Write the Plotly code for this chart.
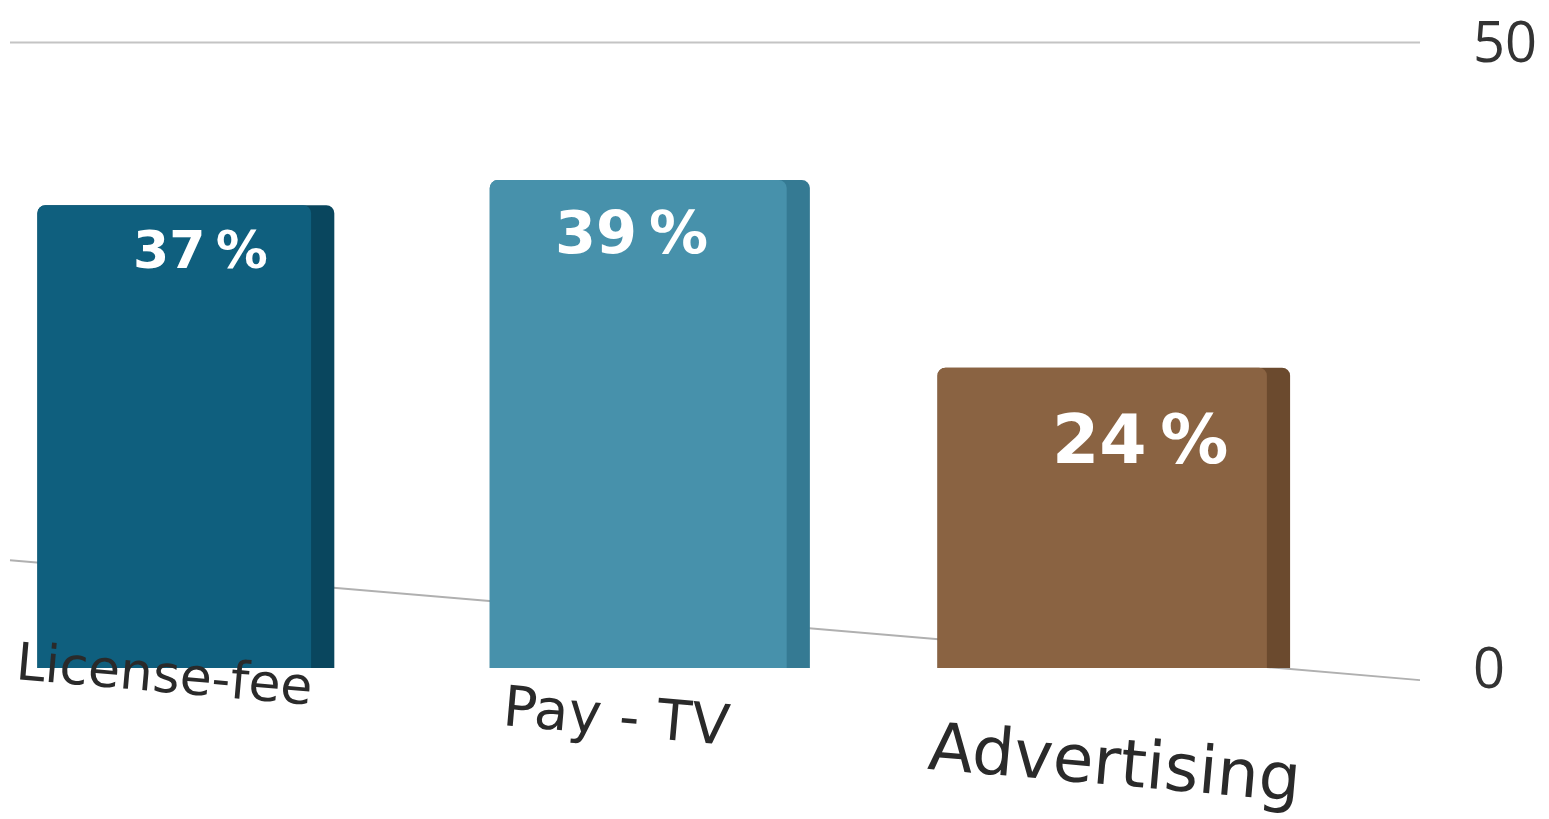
import plotly.graph_objects as go

categories = ["License-fee", "Pay-TV", "Advertising"]
category_text = ["License-fee", "Pay - TV", "Advertising"]
values = [37, 39, 24]
value_labels = ["37\u2009%", "39\u2009%", "24\u2009%"]
bar_colors = ["#0f5f7e", "#4791ab", "#8a6342"]
side_colors = ["#09465e", "#357a93", "#6b4a2e"]
y_ticks = [0, 50]

x_idx = list(range(len(categories)))

# perspective styling (bars nearer the viewer look wider)
side_w = [0.64, 0.69, 0.76]
front_w = [w - 0.05 for w in side_w]
offs = [-w / 2 for w in side_w]

fig = go.Figure()
fig.add_trace(go.Bar(
    x=x_idx, y=values,
    marker=dict(color=side_colors, line=dict(width=0), cornerradius=8),
    width=side_w, offset=offs,
    hoverinfo="skip", showlegend=False,
))
fig.add_trace(go.Bar(
    x=x_idx, y=values,
    marker=dict(color=bar_colors, line=dict(width=0), cornerradius=8),
    width=front_w, offset=offs,
    hoverinfo="skip", showlegend=False,
))

val_shift_x = [15, -18, 26]
val_shift_y = [-45, -52, -72]
val_size = [52, 59, 68]
cat_shift = [(-21, -6), (-33, -47), (1, -94)]
cat_size = [52, 56, 66]

annotations = []
for i, (cat, v, lbl) in enumerate(zip(category_text, values, value_labels)):
    annotations.append(dict(
        x=i, y=v, xref="x", yref="y", text=f"<b>{lbl}</b>", showarrow=False,
        yanchor="middle", yshift=val_shift_y[i], xshift=val_shift_x[i],
        font=dict(family="DejaVu Sans", size=val_size[i], color="white"),
    ))
    annotations.append(dict(
        x=i, y=0, xref="x", yref="y", text=cat, showarrow=False,
        yanchor="middle", xshift=cat_shift[i][0], yshift=cat_shift[i][1],
        textangle=5,
        font=dict(family="DejaVu Sans", size=cat_size[i], color="#2a2a2a"),
    ))

shapes = [dict(type="line", xref="paper", yref="paper",
               x0=0, y0=0.169, x1=1, y1=-0.019,
               line=dict(color="#b0b0b0", width=2), layer="below")]

fig.update_layout(
    width=1549, height=819,
    margin=dict(l=10, r=129, t=30, b=151, autoexpand=False),
    plot_bgcolor="white", paper_bgcolor="white",
    barmode="overlay",
    annotations=annotations,
    shapes=shapes,
    xaxis=dict(range=[-0.379, 2.66], showticklabels=False, showgrid=False,
               zeroline=False, showline=False, ticks="", automargin=False),
    yaxis=dict(range=[0, 51], side="right", tickvals=y_ticks,
               ticktext=[str(t) for t in y_ticks],
               showgrid=False, automargin=False,
               zeroline=False, showline=False, ticks="",
               ticklabelstandoff=52,
               tickfont=dict(family="Open Sans", size=56, color="#333333")),
)
fig.add_hline(y=50, line=dict(color="#c4c4c4", width=2), layer="below")

fig.write_html("out.html")
